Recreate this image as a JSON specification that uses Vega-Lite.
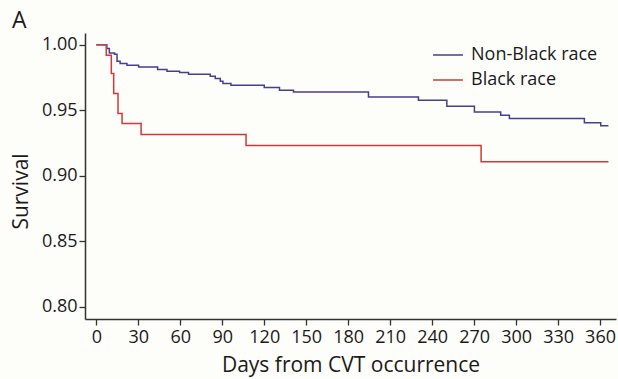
{
  "$schema": "https://vega.github.io/schema/vega-lite/v6.json",
  "width": 531,
  "height": 286,
  "autosize": {"type": "none"},
  "padding": {"left": 85, "top": 33, "right": 2, "bottom": 60},
  "background": "#fdfdfa",
  "title": {"text": "A", "anchor": "start", "frame": "group", "fontSize": 23, "font": "Open Sans", "fontWeight": "normal", "color": "#1a1a1a", "dx": -73, "dy": 23, "offset": 5, "baseline": "alphabetic"},
  "config": {"view": {"stroke": null}, "font": "Open Sans"},
  "data": {"values": [
    {"day": 0, "surv": 1.0, "group": "Non-Black race"},
    {"day": 7.5, "surv": 0.9971, "group": "Non-Black race"},
    {"day": 9.3, "surv": 0.9937, "group": "Non-Black race"},
    {"day": 13, "surv": 0.9928, "group": "Non-Black race"},
    {"day": 14.8, "surv": 0.9875, "group": "Non-Black race"},
    {"day": 17, "surv": 0.9857, "group": "Non-Black race"},
    {"day": 21.9, "surv": 0.9844, "group": "Non-Black race"},
    {"day": 30.2, "surv": 0.9831, "group": "Non-Black race"},
    {"day": 43.8, "surv": 0.9811, "group": "Non-Black race"},
    {"day": 50.5, "surv": 0.9798, "group": "Non-Black race"},
    {"day": 59.5, "surv": 0.9788, "group": "Non-Black race"},
    {"day": 65.9, "surv": 0.9775, "group": "Non-Black race"},
    {"day": 81.4, "surv": 0.976, "group": "Non-Black race"},
    {"day": 85, "surv": 0.9742, "group": "Non-Black race"},
    {"day": 88.6, "surv": 0.9722, "group": "Non-Black race"},
    {"day": 90.5, "surv": 0.9704, "group": "Non-Black race"},
    {"day": 96.2, "surv": 0.9691, "group": "Non-Black race"},
    {"day": 120, "surv": 0.9674, "group": "Non-Black race"},
    {"day": 130.9, "surv": 0.9653, "group": "Non-Black race"},
    {"day": 140.9, "surv": 0.964, "group": "Non-Black race"},
    {"day": 194.5, "surv": 0.9602, "group": "Non-Black race"},
    {"day": 230.2, "surv": 0.9577, "group": "Non-Black race"},
    {"day": 250.5, "surv": 0.9531, "group": "Non-Black race"},
    {"day": 270.2, "surv": 0.9487, "group": "Non-Black race"},
    {"day": 289, "surv": 0.9462, "group": "Non-Black race"},
    {"day": 295.2, "surv": 0.9437, "group": "Non-Black race"},
    {"day": 348.8, "surv": 0.9404, "group": "Non-Black race"},
    {"day": 360.5, "surv": 0.9381, "group": "Non-Black race"},
    {"day": 366, "surv": 0.9381, "group": "Non-Black race"},
    {"day": 0, "surv": 1.0, "group": "Black race"},
    {"day": 7.1, "surv": 0.992, "group": "Black race"},
    {"day": 10.7, "surv": 0.978, "group": "Black race"},
    {"day": 12.4, "surv": 0.9628, "group": "Black race"},
    {"day": 15.5, "surv": 0.9475, "group": "Black race"},
    {"day": 18.4, "surv": 0.9399, "group": "Black race"},
    {"day": 32, "surv": 0.9315, "group": "Black race"},
    {"day": 107, "surv": 0.9231, "group": "Black race"},
    {"day": 275, "surv": 0.9106, "group": "Black race"},
    {"day": 366, "surv": 0.9106, "group": "Black race"}
  ]},
  "mark": {"type": "line", "interpolate": "step-after", "strokeWidth": 1.5},
  "encoding": {
    "x": {
      "field": "day", "type": "quantitative",
      "scale": {"domain": [-8.1, 371.4], "nice": false, "zero": false},
      "axis": {
        "values": [0, 30, 60, 90, 120, 150, 180, 210, 240, 270, 300, 330, 360],
        "title": "Days from CVT occurrence", "titleFontSize": 21, "titleFontWeight": "normal", "titleColor": "#1a1a1a",
        "titleY": 52, "titleBaseline": "alphabetic",
        "labelFontSize": 18, "labelColor": "#1a1a1a", "labelPadding": 3, "labelFlush": false,
        "tickSize": 6, "tickColor": "#333", "tickWidth": 1.3,
        "domainColor": "#333", "domainWidth": 1.5, "grid": false
      }
    },
    "y": {
      "field": "surv", "type": "quantitative",
      "scale": {"domain": [0.7906, 1.009], "nice": false, "zero": false},
      "axis": {
        "values": [0.8, 0.85, 0.9, 0.95, 1.0], "format": ".2f",
        "title": "Survival", "titleFontSize": 21, "titleFontWeight": "normal", "titleColor": "#1a1a1a",
        "titleX": -58, "titleY": 158, "titleBaseline": "alphabetic", "titleAngle": -90, "titleAlign": "center",
        "labelFontSize": 18, "labelColor": "#1a1a1a", "labelPadding": 2, "labelFlush": false,
        "tickSize": 6, "tickColor": "#333", "tickWidth": 1.3,
        "domainColor": "#333", "domainWidth": 1.5, "grid": false
      }
    },
    "color": {
      "field": "group", "type": "nominal",
      "scale": {"domain": ["Non-Black race", "Black race"], "range": ["#463f8f", "#d2393b"]},
      "legend": {
        "title": null, "orient": "none", "legendX": 347, "legendY": 6,
        "symbolType": "stroke", "symbolSize": 900, "symbolStrokeWidth": 1.5,
        "labelFontSize": 18, "labelColor": "#1a1a1a", "labelOffset": 7, "rowPadding": -11, "padding": 0
      }
    }
  }
}
